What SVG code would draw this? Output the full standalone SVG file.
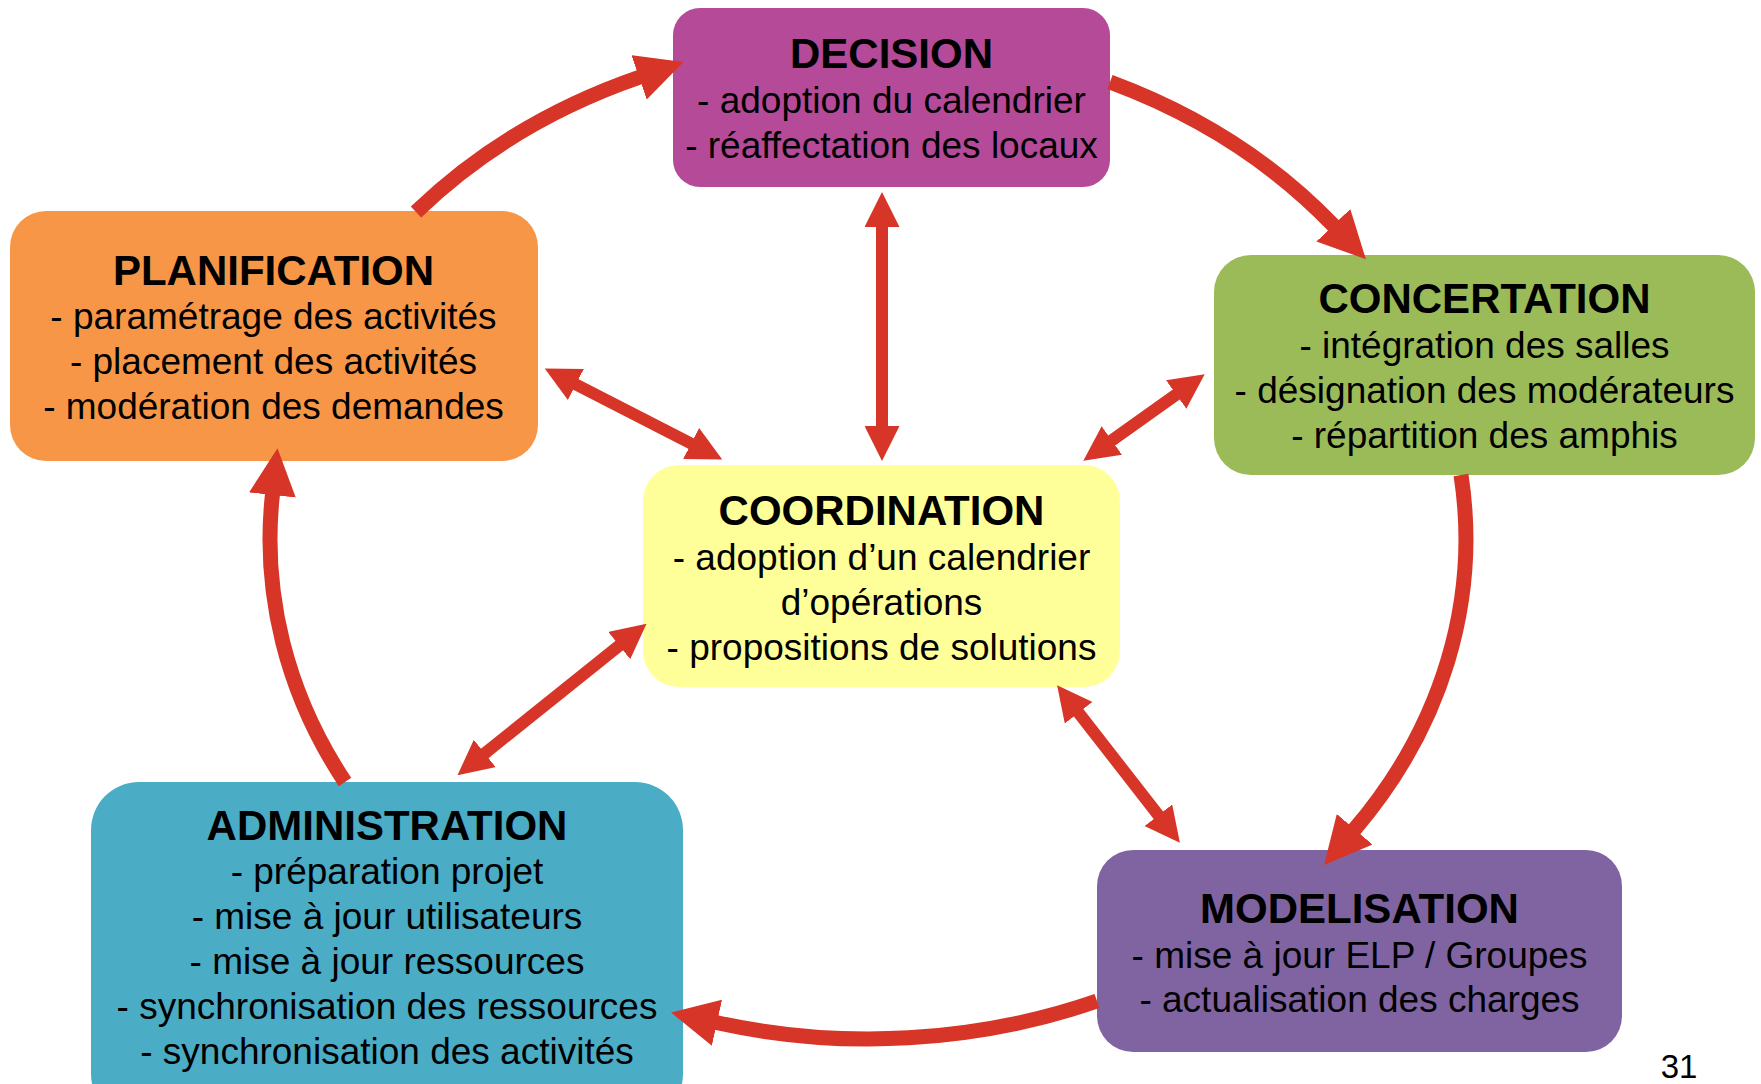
<svg xmlns="http://www.w3.org/2000/svg" width="1761" height="1084" viewBox="0 0 1761 1084">
<style>
.t{font-family:"Liberation Sans",Arial,Helvetica,sans-serif;font-size:42px;font-weight:bold;fill:#000;text-anchor:middle}
.b{font-family:"Liberation Sans",Arial,Helvetica,sans-serif;font-size:37px;fill:#000;text-anchor:middle}
.c{fill:none;stroke:#D73527;stroke-width:15}
.d{fill:none;stroke:#D73527;stroke-width:12}
</style>
<defs>
<marker id="bigHead" viewBox="0 0 47 47" markerWidth="47" markerHeight="47" refX="1" refY="23.5" orient="auto" markerUnits="userSpaceOnUse"><path d="M0,0 L47,23.5 L0,47 Z" fill="#D73527"/></marker>
<marker id="smallHead" viewBox="0 0 35 35" markerWidth="35" markerHeight="35" refX="1" refY="17.5" orient="auto-start-reverse" markerUnits="userSpaceOnUse"><path d="M0,0 L35,17.5 L0,35 Z" fill="#D73527"/></marker>
</defs>
<rect width="1761" height="1084" fill="#fff"/>
<g id="decision">
<rect x="673" y="8" width="437" height="179" rx="27" fill="#B44A98"/>
<text class="t" x="891.5" y="68">DECISION</text>
<text class="b" x="891.5" y="113">- adoption du calendrier</text>
<text class="b" x="891.5" y="158">- réaffectation des locaux</text>
</g>
<g id="planification">
<rect x="10" y="211" width="528" height="250" rx="36" fill="#F79646"/>
<text class="t" x="273.5" y="285">PLANIFICATION</text>
<text class="b" x="273.5" y="329">- paramétrage des activités</text>
<text class="b" x="273.5" y="374">- placement des activités</text>
<text class="b" x="273.5" y="419">- modération des demandes</text>
</g>
<g id="concertation">
<rect x="1214" y="255" width="541" height="220" rx="37" fill="#9BBB59"/>
<text class="t" x="1484.5" y="313">CONCERTATION</text>
<text class="b" x="1484.5" y="358">- intégration des salles</text>
<text class="b" x="1484.5" y="403">- désignation des modérateurs</text>
<text class="b" x="1484.5" y="448">- répartition des amphis</text>
</g>
<g id="coordination">
<rect x="643" y="465" width="477" height="222" rx="36" fill="#FFFF99"/>
<text class="t" x="881.5" y="525">COORDINATION</text>
<text class="b" x="881.5" y="570">- adoption d’un calendrier</text>
<text class="b" x="881.5" y="615">d’opérations</text>
<text class="b" x="881.5" y="660">- propositions de solutions</text>
</g>
<g id="administration">
<rect x="91" y="782" width="592" height="340" rx="48" fill="#4BACC6"/>
<text class="t" x="387" y="840">ADMINISTRATION</text>
<text class="b" x="387" y="884">- préparation projet</text>
<text class="b" x="387" y="929">- mise à jour utilisateurs</text>
<text class="b" x="387" y="974">- mise à jour ressources</text>
<text class="b" x="387" y="1019">- synchronisation des ressources</text>
<text class="b" x="387" y="1064">- synchronisation des activités</text>
</g>
<g id="modelisation">
<rect x="1097" y="850" width="525" height="202" rx="36" fill="#8064A2"/>
<text class="t" x="1359.5" y="923">MODELISATION</text>
<text class="b" x="1359.5" y="968">- mise à jour ELP / Groupes</text>
<text class="b" x="1359.5" y="1012">- actualisation des charges</text>
</g>
<g id="connectors">
<path class="c" d="M416,212 A598,500 0 0 1 640,77" marker-end="url(#bigHead)"/>
<path class="c" d="M1110,82 A598,500 0 0 1 1334,226" marker-end="url(#bigHead)"/>
<path class="c" d="M1461,475 A598,500 0 0 1 1354,830" marker-end="url(#bigHead)"/>
<path class="c" d="M1097,1001 A598,500 0 0 1 716,1022.5" marker-end="url(#bigHead)"/>
<path class="c" d="M345,782 A598,500 0 0 1 272.5,494" marker-end="url(#bigHead)"/>
<path class="d" d="M575,384 L692,444" marker-start="url(#smallHead)" marker-end="url(#smallHead)"/>
<path class="d" d="M882,226 L882,427" marker-start="url(#smallHead)" marker-end="url(#smallHead)"/>
<path class="d" d="M1177,394 L1111,441" marker-start="url(#smallHead)" marker-end="url(#smallHead)"/>
<path class="d" d="M620,645 L484,754" marker-start="url(#smallHead)" marker-end="url(#smallHead)"/>
<path class="d" d="M1078,712 L1159,816" marker-start="url(#smallHead)" marker-end="url(#smallHead)"/>
</g>
<text class="b" x="1679" y="1078" style="font-size:33px">31</text>
</svg>
